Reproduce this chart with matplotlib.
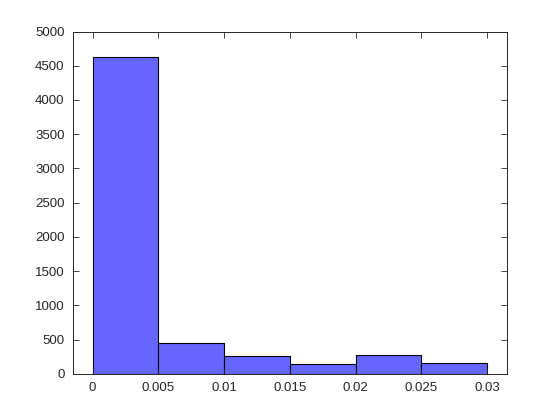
import matplotlib
matplotlib.use("Agg")
import matplotlib.pyplot as plt
import numpy as np

bin_edges = [0, 0.005, 0.01, 0.015, 0.02, 0.025, 0.03]
counts = [4630, 455, 262, 143, 279, 158]
xticks = [0, 0.005, 0.01, 0.015, 0.02, 0.025, 0.03]
xticklabels = ["0", "0.005", "0.01", "0.015", "0.02", "0.025", "0.03"]
yticks = [0, 500, 1000, 1500, 2000, 2500, 3000, 3500, 4000, 4500, 5000]

plt.rcParams['font.family'] = ['Liberation Sans', 'DejaVu Sans']
fig = plt.figure(figsize=(5.6, 4.2), dpi=100)
ax = fig.add_axes([0.13, 0.11, 0.775, 0.815])

edges = np.array(bin_edges)
ax.bar(edges[:-1], counts, width=np.diff(edges), align='edge',
       color=(0.4, 0.4, 1.0), edgecolor='black', linewidth=0.8)

ax.set_xlim(-0.0015, 0.0315)
ax.set_ylim(0, 5000)
ax.set_xticks(xticks)
ax.set_xticklabels(xticklabels)
ax.set_yticks(yticks)
gray = (0.15, 0.15, 0.15)
ax.tick_params(direction='in', top=True, right=True, length=4, width=0.6,
               colors=gray, labelsize=9.5, labelcolor=gray, pad=6)
for s in ax.spines.values():
    s.set_color(gray)
    s.set_linewidth(0.7)

fig.savefig("out.png", dpi=100)
